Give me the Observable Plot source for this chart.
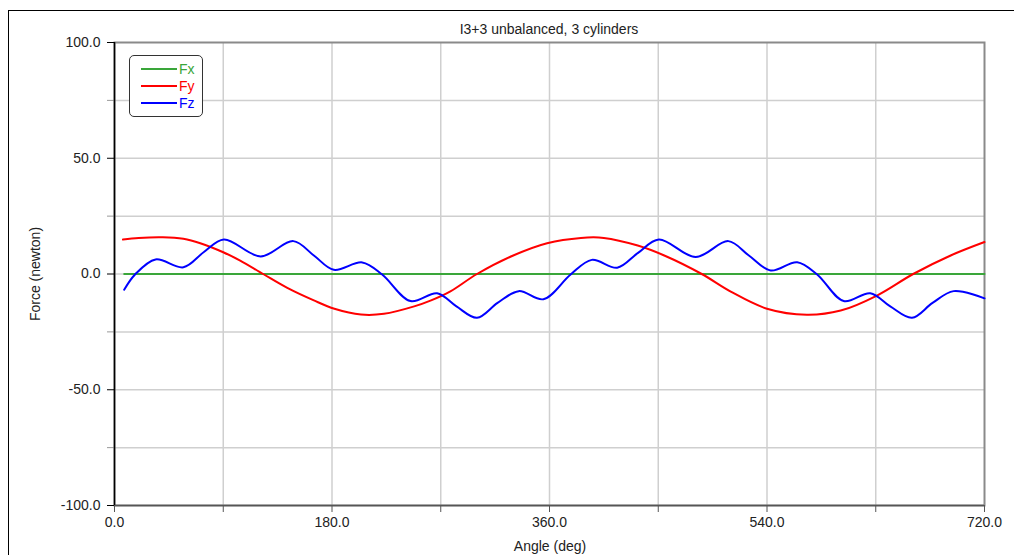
<!DOCTYPE html>
<html>
<head>
<meta charset="utf-8">
<script src="https://cdn.jsdelivr.net/npm/d3@7"></script>
<script src="https://cdn.jsdelivr.net/npm/@observablehq/plot@0.6"></script>
<style>
  body { margin: 0; background: #fff; font-family: "Liberation Sans", Arial, sans-serif; }
  #wrap { position: relative; width: 1014px; height: 555px; overflow: hidden; background: #fff; }
  #outer { position: absolute; left: 8px; top: 10px; width: 1100px; height: 700px; border: 1px solid #000; box-sizing: border-box; }
  #chart { position: absolute; left: 0; top: 0; }
  .txt { position: absolute; color: #222; font-size: 14px; white-space: nowrap; }
  #title { left: 549px; top: 29px; transform: translate(-50%, -50%); }
  #xlabel { left: 550px; top: 546px; transform: translate(-50%, -50%); }
  #ylabel { left: 35px; top: 274px; transform: translate(-50%, -50%) rotate(-90deg); }
  #legend { position: absolute; left: 129px; top: 55px; width: 74px; height: 62px; border: 1px solid #333; border-radius: 5px; box-sizing: border-box; background: #fff; }
  .lrow { position: absolute; left: 11px; height: 16px; font-size: 14px; line-height: 16px; }
  .lrow span.sw { position: absolute; left: 0; top: 7px; width: 36px; height: 2px; }
  .lrow span.lt { position: absolute; left: 38px; top: 0; }
</style>
</head>
<body>
<div id="wrap">
  <div id="outer"></div>
  <div id="chart"></div>
  <div class="txt" id="title">I3+3 unbalanced, 3 cylinders</div>
  <div class="txt" id="xlabel">Angle (deg)</div>
  <div class="txt" id="ylabel">Force (newton)</div>
  <div id="legend"></div>
</div>
<script>
// ---- data ----
const seriesNames = ["Fx", "Fy", "Fz"];
const seriesColors = ["#3aa63a", "#ff0000", "#0000ff"];

const fxAngle = [8, 720];
const fxValue = [0, 0];

const fyAngle = [7, 20, 40, 57, 71, 90, 104, 123, 143, 165, 182, 204, 223, 248, 262, 278, 300, 330, 358, 386, 405, 433, 455, 486, 510, 540, 573, 601, 631, 661, 692, 720];
const fyValue = [14.9, 15.6, 15.9, 15.2, 13.3, 9.4, 5.8, 0, -6.0, -11.4, -15.0, -17.5, -17.2, -14.0, -11.4, -7.5, 0, 8.0, 13.3, 15.6, 15.6, 12.3, 8.0, 0, -7.6, -15.0, -17.6, -15.8, -9.3, 0, 8.0, 13.8];

const fzAngle = [8, 17, 34, 57, 74, 90.5, 121, 148, 165, 181.5, 205, 221.5, 245, 267, 283, 300, 317, 334.5, 355, 377.5, 395, 416, 433, 450.5, 481, 508, 525, 543, 565, 581.5, 603.5, 625.5, 642, 660, 677, 694.5, 720];
const fzValue = [-6.8, -0.2, 6.3, 2.9, 9.5, 14.9, 7.6, 14.2, 8.0, 1.8, 5.0, -0.2, -11.7, -8.3, -14.0, -18.9, -12.5, -7.4, -10.9, -0.2, 6.1, 2.7, 9.0, 14.9, 7.3, 14.2, 8.0, 1.5, 5.1, -0.2, -11.7, -8.3, -14.0, -18.9, -12.5, -7.4, -10.5];

const xMajorTicks = [0, 180, 360, 540, 720];
const xMinorTicks = [90, 270, 450, 630];
const yMajorTicks = [-100, -50, 0, 50, 100];
const yMinorTicks = [-75, -25, 25, 75];
const xGrid = [90, 180, 270, 360, 450, 540, 630];
const yGrid = [-75, -50, -25, 0, 25, 50, 75];

// ---- build tables ----
const toRows = (a, v) => a.map((x, i) => ({a: x, v: v[i]}));
const fx = toRows(fxAngle, fxValue);
const fy = toRows(fyAngle, fyValue);
const fz = toRows(fzAngle, fzValue);

const fmt = d => d.toFixed(1);

const chart = Plot.plot({
  width: 1014,
  height: 555,
  marginLeft: 114,
  marginRight: 30,
  marginTop: 42,
  marginBottom: 50,
  style: {fontFamily: '"Liberation Sans", Arial, sans-serif', fontSize: "14px", color: "#222", background: "transparent"},
  x: {domain: [0, 720]},
  y: {domain: [-100, 100]},
  marks: [
    Plot.gridX(xGrid, {stroke: "#cfcfcf", strokeOpacity: 1, strokeWidth: 1.5}),
    Plot.gridY(yGrid, {stroke: "#cfcfcf", strokeOpacity: 1, strokeWidth: 1.5}),
    Plot.frame({stroke: "#8a8a8a", strokeWidth: 2}),
    Plot.axisY(yMinorTicks, {tickSize: 7, tickFormat: () => "", stroke: "#999", label: null}),
    Plot.axisY(yMajorTicks, {tickSize: 7, tickPadding: 7, tickFormat: fmt, stroke: "#000", label: null}),
    Plot.axisX(xMinorTicks, {tickSize: 7, tickFormat: () => "", stroke: "#555", label: null}),
    Plot.axisX(xMajorTicks, {tickSize: 7, tickPadding: 5, tickFormat: fmt, stroke: "#555", label: null}),
    Plot.ruleY([-100], {stroke: "#555", strokeWidth: 1.5}),
    Plot.ruleX([0], {stroke: "#000", strokeWidth: 1.5}),
    Plot.line(fx, {x: "a", y: "v", stroke: seriesColors[0], strokeWidth: 2}),
    Plot.line(fy, {x: "a", y: "v", stroke: seriesColors[1], strokeWidth: 2, curve: "catmull-rom"}),
    Plot.line(fz, {x: "a", y: "v", stroke: seriesColors[2], strokeWidth: 2, curve: "catmull-rom"})
  ]
});
document.getElementById("chart").appendChild(chart);

// ---- legend ----
const legend = document.getElementById("legend");
const rowTops = [5, 22, 39];
seriesNames.forEach((name, i) => {
  const row = document.createElement("div");
  row.className = "lrow";
  row.style.top = rowTops[i] + "px";
  row.innerHTML = `<span class="sw" style="background:${seriesColors[i]}"></span><span class="lt" style="color:${seriesColors[i]}">${name}</span>`;
  legend.appendChild(row);
});
</script>
</body>
</html>
